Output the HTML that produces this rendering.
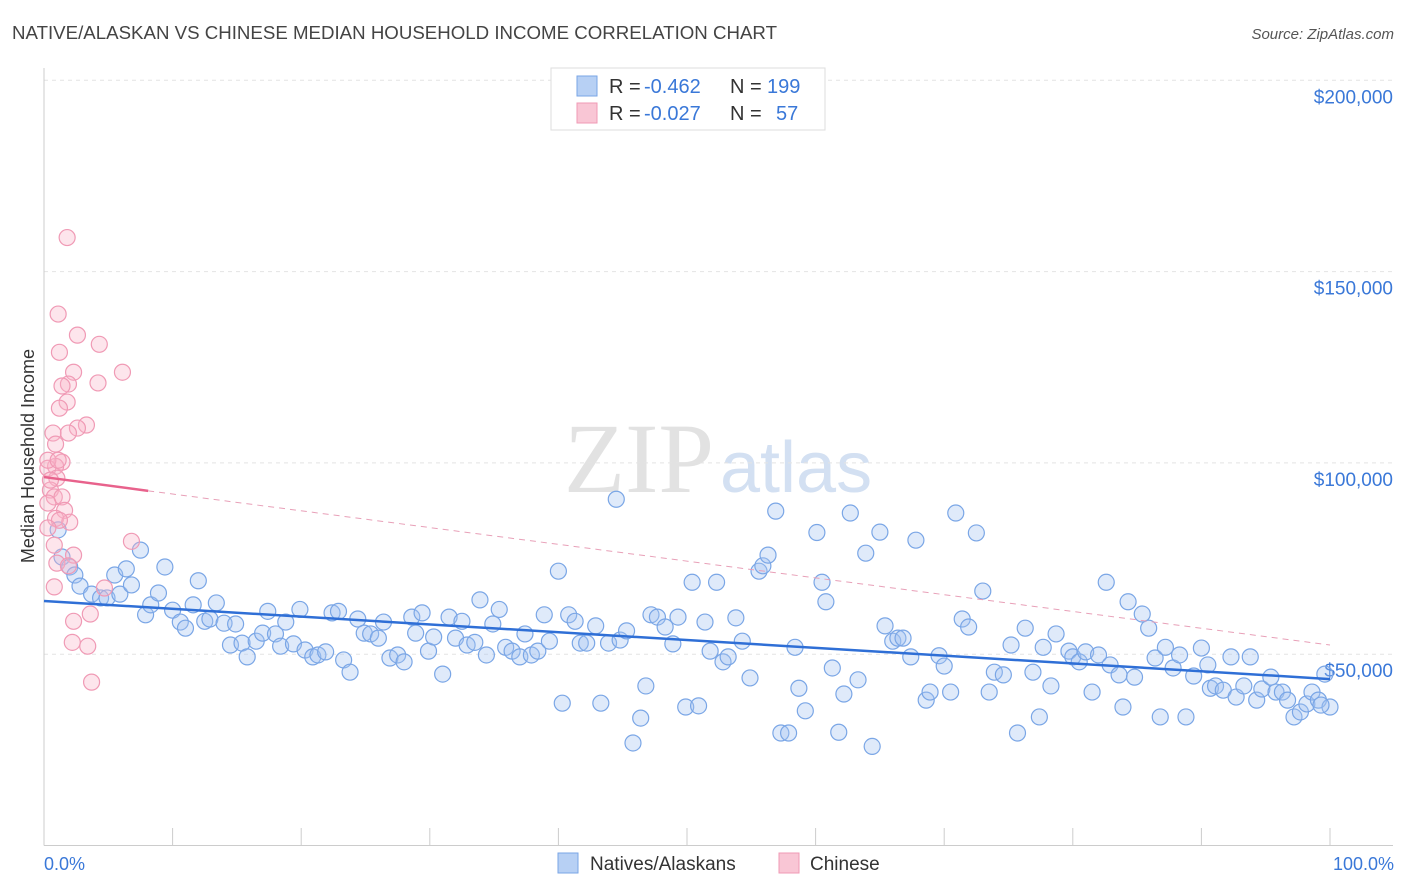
<!DOCTYPE html>
<html><head><meta charset="utf-8"><style>
body{margin:0;background:#fff;font-family:"Liberation Sans",sans-serif;}
#wrap{position:relative;width:1406px;height:892px;overflow:hidden;}
</style></head><body>
<div id="wrap">
<svg id="svg" width="1406" height="892" xmlns="http://www.w3.org/2000/svg">
<text x="12" y="39" font-size="18" fill="#444" textLength="765" lengthAdjust="spacingAndGlyphs">NATIVE/ALASKAN VS CHINESE MEDIAN HOUSEHOLD INCOME CORRELATION CHART</text>
<text x="1394" y="39" font-size="15" fill="#555" font-style="italic" text-anchor="end">Source: ZipAtlas.com</text>
<text x="714" y="492" font-size="100" fill="#e2e2e2" text-anchor="end" font-family="Liberation Serif">ZIP</text>
<text x="720" y="492" font-size="72" fill="#d3e0f2">atlas</text>
<g id="grid"></g><g id="pts"></g><g id="trend"></g>
<text transform="translate(34,456) rotate(-90)" font-size="18" fill="#333" text-anchor="middle">Median Household Income</text>
<text x="44" y="870" font-size="18" fill="#3a78d8">0.0%</text>
<text x="1394" y="870" font-size="18" fill="#3a78d8" text-anchor="end">100.0%</text>
<g>
<rect x="551" y="68" width="274" height="62" fill="#fff" stroke="#ddd"/>
<rect x="577" y="76" width="20" height="20" fill="#b7d0f4" stroke="#7aa6e6"/>
<rect x="577" y="103" width="20" height="20" fill="#f9c6d5" stroke="#f09ab5"/>
<text x="609" y="93" font-size="20" fill="#333">R =</text>
<text x="644" y="93" font-size="20" fill="#3a78d8">-0.462</text>
<text x="730" y="93" font-size="20" fill="#333">N =</text>
<text x="767" y="93" font-size="20" fill="#3a78d8">199</text>
<text x="609" y="120" font-size="20" fill="#333">R =</text>
<text x="644" y="120" font-size="20" fill="#3a78d8">-0.027</text>
<text x="730" y="120" font-size="20" fill="#333">N =</text>
<text x="776" y="120" font-size="20" fill="#3a78d8">57</text>
</g>
<g>
<rect x="558" y="853" width="20" height="20" fill="#b7d0f4" stroke="#7aa6e6"/>
<text x="590" y="870" font-size="19" fill="#333">Natives/Alaskans</text>
<rect x="779" y="853" width="20" height="20" fill="#f9c6d5" stroke="#f09ab5"/>
<text x="810" y="870" font-size="19" fill="#333">Chinese</text>
</g>
</svg></div>
<script>
const yTicks=[50,100,150,200];
const yTickLabels=["$50,000","$100,000","$150,000","$200,000"];
const xTicks=[0,10,20,30,40,50,60,70,80,90,100];
const blueX=[1.1,1.4,2.0,2.4,2.8,3.7,4.4,4.9,5.5,5.9,6.4,6.8,7.5,7.9,8.3,8.9,9.4,10.0,10.6,11.0,11.6,12.0,12.5,12.9,13.4,14.0,14.5,14.9,15.4,15.8,16.5,17.0,17.4,18.0,18.4,18.8,19.4,19.9,20.3,20.9,21.3,21.9,22.4,22.9,23.3,23.8,24.4,24.9,25.4,26.0,26.4,26.9,27.5,28.0,28.6,28.9,29.4,29.9,30.3,31.0,31.5,32.0,32.5,32.9,33.5,33.9,34.4,34.9,35.4,35.9,36.4,37.0,37.4,37.9,38.4,38.9,39.3,40.0,40.3,40.8,41.3,41.7,42.2,42.9,43.3,43.9,44.5,44.8,45.3,45.8,46.4,46.8,47.2,47.7,48.3,48.9,49.3,49.9,50.4,50.9,51.4,51.8,52.3,52.8,53.2,53.8,54.3,54.9,55.6,55.9,56.3,56.9,57.3,57.9,58.4,58.7,59.2,60.1,60.5,60.8,61.3,61.8,62.2,62.7,63.3,63.9,64.4,65.0,65.4,66.0,66.4,66.8,67.4,67.8,68.6,68.9,69.6,70.0,70.5,70.9,71.4,71.9,72.5,73.0,73.5,73.9,74.6,75.2,75.7,76.3,76.9,77.4,77.7,78.3,78.7,79.7,80.0,80.5,81.0,81.5,82.0,82.6,82.9,83.6,83.9,84.3,84.8,85.4,85.9,86.4,86.8,87.2,87.8,88.3,88.8,89.4,90.0,90.5,90.7,91.1,91.7,92.3,92.7,93.3,93.8,94.3,94.7,95.4,95.8,96.3,96.7,97.2,97.7,98.2,98.6,99.1,99.6,100,99.3];
const blueY=[82.5,75.4,72.8,70.7,67.8,65.7,64.7,64.7,70.7,65.7,72.3,68.1,77.2,60.3,62.9,66.0,72.8,61.5,58.4,56.8,62.9,69.2,58.6,59.2,63.4,58.1,52.4,57.9,52.9,49.3,53.4,55.5,61.2,55.3,52.1,58.4,52.7,61.7,51.1,49.3,49.8,50.6,60.8,61.2,48.5,45.3,59.2,55.5,55.3,54.2,58.4,49.0,49.8,48.0,59.7,55.5,60.8,50.8,54.5,44.8,59.7,54.2,58.6,52.4,53.1,64.2,49.8,57.9,61.7,51.8,50.8,49.3,55.3,49.8,50.8,60.3,53.4,71.7,37.2,60.3,58.6,52.9,52.9,57.4,37.2,52.9,90.5,53.7,56.1,26.8,33.3,41.7,60.3,59.7,57.1,52.7,59.7,36.2,68.8,36.5,58.4,50.8,68.8,48.0,49.3,59.5,53.4,43.8,71.7,73.1,75.9,87.4,29.4,29.4,51.8,41.1,35.2,81.8,68.8,63.7,46.4,29.6,39.6,86.9,43.3,76.4,25.9,81.9,57.4,53.4,54.2,54.2,49.3,79.8,38.0,40.1,49.6,46.9,40.1,86.9,59.2,57.1,81.7,66.5,40.1,45.3,44.6,52.4,29.4,56.8,45.3,33.6,51.8,41.7,55.3,50.8,49.3,48.0,50.6,40.1,49.8,68.8,47.2,44.6,36.2,63.7,44.0,60.5,56.8,49.0,33.6,51.8,46.4,49.8,33.6,44.3,51.6,47.2,41.1,41.7,40.6,49.3,38.8,41.7,49.3,38.0,40.9,44.0,40.1,40.1,38.0,33.6,34.9,37.0,40.1,38.0,44.8,36.2,36.7];
const pinkX=[1.8,1.1,2.6,1.2,4.3,6.1,2.3,1.9,1.4,4.2,1.8,1.2,3.3,2.6,1.9,0.7,0.9,1.4,0.9,0.3,1.0,0.5,0.8,1.4,0.3,1.6,0.9,2.0,1.2,0.3,0.8,6.8,2.3,1.0,1.9,4.7,0.8,2.3,3.6,2.2,3.4,3.7,0.3,0.5,1.1];
const pinkY=[158.9,138.9,133.4,128.9,131.0,123.7,123.7,120.6,120.1,120.9,115.9,114.3,109.9,109.1,107.8,107.8,104.9,100.2,99.1,98.6,96.0,92.9,91.1,91.1,89.5,87.6,85.5,84.5,85.0,83.0,78.5,79.5,75.9,73.8,73.1,67.3,67.6,58.6,60.5,53.1,52.1,42.7,100.7,95.5,100.7];
const blueTrend=[[0,63.9],[100,43.5]];
const pinkTrend=[[0,96.3],[8.1,92.7],[100,52.4]];
const X=p=>44+p*12.86, Y=v=>845.5-v*3.826;
const NS="http://www.w3.org/2000/svg";
function mk(tag,attrs,parent){const e=document.createElementNS(NS,tag);for(const k in attrs)e.setAttribute(k,attrs[k]);parent.appendChild(e);return e;}
const grid=document.getElementById('grid'),pts=document.getElementById('pts'),tr=document.getElementById('trend');
yTicks.forEach((t,i)=>{
 const l=mk('line',{x1:44,x2:1393,y1:Y(t),y2:Y(t),stroke:'#e4e4e4','stroke-dasharray':'4,4'},grid);
 
 
 const tx=mk('text',{x:1393,y:Y(t)+23,'font-size':19,fill:'#3a78d8','text-anchor':'end'},grid);
 tx.textContent=yTickLabels[i];
 
 
});
const ax=mk('line',{x1:44,x2:1393,y1:845.5,y2:845.5,stroke:'#ccc'},grid);


const ay=mk('line',{x1:44,x2:44,y1:68,y2:845.5,stroke:'#ccc'},grid);


xTicks.forEach(t=>{
 const l=mk('line',{x1:X(t),x2:X(t),y1:828,y2:845.5,stroke:'#ccc'},grid);
 
 
});
blueX.forEach((x,i)=>{
 const c=mk('circle',{cx:X(x),cy:Y(blueY[i]),r:8,fill:'rgba(164,194,240,0.35)',stroke:'#7aa6e6','stroke-width':1.2},pts);
 
 
});
pinkX.forEach((x,i)=>{
 const c=mk('circle',{cx:X(x),cy:Y(pinkY[i]),r:8,fill:'rgba(248,180,200,0.35)',stroke:'#f09ab5','stroke-width':1.2},pts);
 
 
});
const bl=mk('line',{x1:X(blueTrend[0][0]),y1:Y(blueTrend[0][1]),x2:X(blueTrend[1][0]),y2:Y(blueTrend[1][1]),stroke:'#2f6fd6','stroke-width':2.5},tr);


const ps=mk('line',{x1:X(pinkTrend[0][0]),y1:Y(pinkTrend[0][1]),x2:X(pinkTrend[1][0]),y2:Y(pinkTrend[1][1]),stroke:'#e8628c','stroke-width':2.5},tr);


const pd=mk('line',{x1:X(pinkTrend[1][0]),y1:Y(pinkTrend[1][1]),x2:X(pinkTrend[2][0]),y2:Y(pinkTrend[2][1]),stroke:'#e8a0b8','stroke-width':1,'stroke-dasharray':'6,5'},tr);


</script>
</body></html>
